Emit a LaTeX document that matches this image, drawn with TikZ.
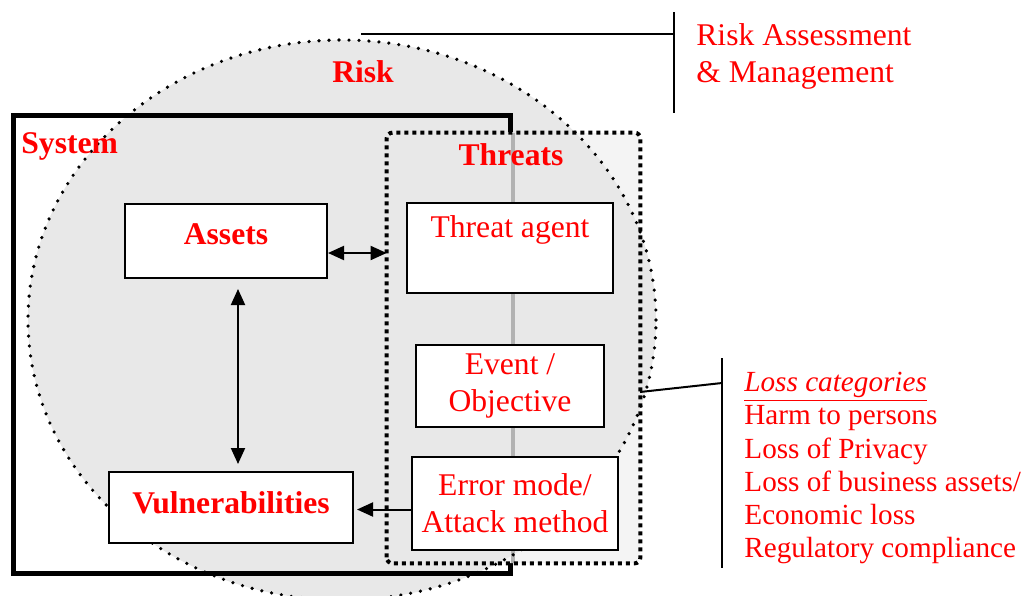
\documentclass[tikz,border=0pt]{standalone}
\usepackage{fontspec}
\setmainfont{Liberation Serif}
\usetikzlibrary{arrows.meta}

\begin{document}
\begin{tikzpicture}[x=0.5pt, y=-0.5pt,
  every node/.style={text=red, font=\fontsize{15.8pt}{18.5pt}\selectfont},
  block/.style={draw, line width=1pt, fill=white, inner sep=0pt, align=center},
  heading/.style={font=\fontsize{15.8pt}{18.5pt}\selectfont\bfseries},
  tip/.style={line width=1pt, arrows={-Triangle[length=8pt, width=7pt]}},
  twoway/.style={line width=1pt, arrows={Triangle[length=8pt, width=7pt]-Triangle[length=8pt, width=7pt]}},
  leader/.style={line width=1pt},
  riskedge/.style={line width=1.8pt, dash pattern=on 0pt off 5pt, line cap=round},
  threatedge/.style={line width=2pt, dash pattern=on 2pt off 2pt, rounded corners=3pt}]
\useasboundingbox (0,0) rectangle (1026,595);

% risk area
\coordinate (riskc) at (342,320);
\fill[gray!18] (riskc) ellipse [x radius=157pt, y radius=140pt];

% system and threat frames
\node[draw, line width=2.5pt, minimum width=248.5pt, minimum height=229pt, inner sep=0pt] (system) at (261.5,344) {};
\node[fill=gray!9, minimum width=126.5pt, minimum height=215pt, inner sep=0pt, rounded corners=3pt] (threats) at (513.5,348) {};
\begin{scope}
  \clip (threats.south west) rectangle (threats.north east);
  \fill[gray!18] (riskc) ellipse [x radius=157pt, y radius=140pt];
\end{scope}
\draw[gray!60, line width=2pt] (system.north east |- threats.north) -- (system.south east |- threats.south);
\draw[riskedge] (riskc) ellipse [x radius=157pt, y radius=140pt];
\draw[threatedge] (threats.south west) rectangle (threats.north east);

% titles
\node[heading, anchor=base, inner sep=0pt] (risk) at (363,82) {Risk};
\node[heading, anchor=base west, inner sep=0pt] (systitle) at (21,153) {System};
\node[heading, anchor=base, inner sep=0pt] (threattitle) at (511,165) {Threats};

% boxes
\node[block, minimum width=101pt, text height=20pt, text depth=17pt] (assets) at (226,241) {\bfseries Assets};
\node[block, minimum width=103pt, text height=17pt, text depth=28pt] (agent) at (510,248) {Threat agent};
\node[block, minimum width=94pt, minimum height=41pt] (event) at (510,386) {Event /\\Objective};
\node[block, minimum width=103pt, minimum height=46.5pt] (attack) at (515,503.5) {Error mode/\\Attack method};
\node[block, minimum width=122pt, text height=20.5pt, text depth=15pt] (vuln) at (231,507.5) {\bfseries Vulnerabilities};

% arrows
\draw[twoway] ([yshift=-6pt]assets.east) -- ([yshift=-6pt]assets.east -| threats.west);
\draw[twoway, shorten <=5pt, shorten >=3.5pt] ([xshift=6pt]assets.south) -- ([xshift=6pt]assets.south |- vuln.north);
\draw[tip, shorten >=1.5pt] ([yshift=-3pt]attack.west) -- ([yshift=-3pt]attack.west -| vuln.east);

% risk assessment note
\coordinate (riskpeak) at (361,34);
\coordinate (ramtop) at (674,12);
\coordinate (rambot) at (674,113);
\draw[leader] (ramtop) -- (rambot);
\draw[leader] (riskpeak) -- (riskpeak -| ramtop);
\node[anchor=north west, inner sep=0pt, align=left] (ram) at (696,23) {Risk Assessment\\\& Management};

% loss categories note
\coordinate (losstie) at (640,392);
\coordinate (losstop) at (722,358);
\coordinate (lossbot) at (722,568);
\coordinate (lossjoin) at (722,383);
\draw[leader] (losstop) -- (lossbot);
\draw[leader] (losstie) -- (lossjoin);
\node[anchor=north west, inner sep=0pt, align=left, font=\fontsize{14.6pt}{16.6pt}\selectfont] (losses) at (744,372)
  {\underline{\textit{Loss categories}}\\Harm to persons\\Loss of Privacy\\Loss of business assets/\\Economic loss\\Regulatory compliance};
\end{tikzpicture}
\end{document}
